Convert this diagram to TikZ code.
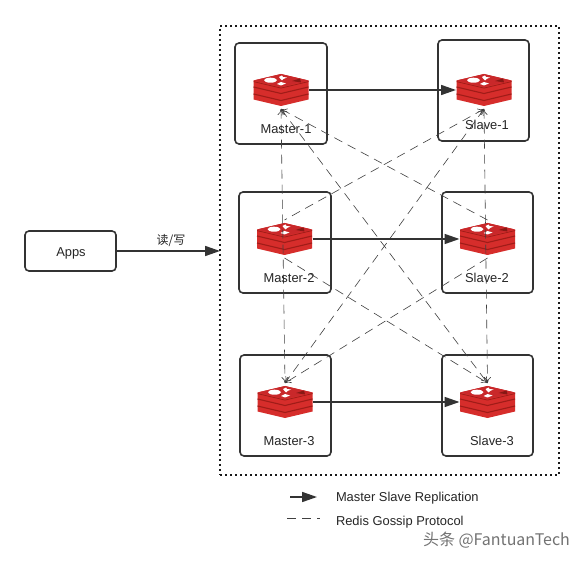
\documentclass[tikz,border=0pt]{standalone}
\usepackage{fontspec}
\setmainfont{Liberation Sans}
\newfontfamily\cjkf{Noto Sans CJK SC}
\usetikzlibrary{arrows.meta}
\definecolor{lineC}{HTML}{333333}
\definecolor{rTop}{HTML}{C9282A}
\definecolor{rSide}{HTML}{D62D2B}
\definecolor{rGap}{HTML}{A01C18}
\tikzset{
  x=1pt,y=-1pt,
  every node/.style={font=\fontsize{12.9}{15}\selectfont,text=black!85,inner sep=0pt,outer sep=0pt},
  unit/.style={draw=lineC,line width=1.6pt,rounded corners=4pt,anchor=north west},
  iconbox/.style={minimum width=56pt,minimum height=38pt},
  repl/.style={draw=lineC,line width=1.6pt,-{Triangle[length=15pt,width=10pt]}},
  gossipline/.style={draw=black!75,line width=.6pt,dash pattern=on 9pt off 6pt},
  headhere/.style={{To[length=6pt,width=7pt,open]}-},
  headthere/.style={-{To[length=6pt,width=7pt,open]}},
  headboth/.style={{To[length=6pt,width=7pt,open]}-{To[length=6pt,width=7pt,open]}},
  frame/.style={draw=black!90,line width=1.5pt,dash pattern=on 2pt off 3pt},
  redis/.pic={
    \fill[rSide] (-27.5,-9.5) -- (0,-16) -- (27.5,-9.5) -- (27.5,9.5) -- (0,16) -- (-27.5,9.5) -- cycle;
    \foreach \d in {0,7}{
      \draw[rGap,line width=1.1pt] (-27.5,-3+\d) -- (0,3.5+\d) -- (27.5,-3+\d);
    }
    \fill[rGap] (-27.5,-8.8) -- (0,-2.3) -- (27.5,-8.8) -- (27.5,-8) -- (0,-1.5) -- (-27.5,-8) -- cycle;
    \fill[rTop] (-27.5,-9.5) -- (0,-16) -- (27.5,-9.5) -- (0,-3) -- cycle;
    \fill[white] (-10.5,-9.8) ellipse [x radius=6.5pt,y radius=2.5pt];
    \fill[white] (-2,-13) -- (1,-14.5) -- (2,-13) -- (6,-12.5) -- (2.5,-11) -- (1,-9.5) -- (-.5,-11) -- cycle;
    \fill[white] (-4,-6) -- (0,-8) -- (5,-6.5) -- (0,-4.5) -- cycle;
    \fill[rGap!85!black] (11,-9) -- (19,-11.5) -- (20,-7.5) -- cycle;
  }
}
\begin{document}
\begin{tikzpicture}
\useasboundingbox (0,0) rectangle (584,561);
\fill[white] (0,0) rectangle (584,561);

\node[frame,anchor=north west,minimum width=339pt,minimum height=449pt] (cluster) at (220,26) {};

\node[unit,minimum width=92pt,minimum height=101pt] (bm1) at (235,43) {};
\node[unit,minimum width=91pt,minimum height=101pt] (bs1) at (438,40) {};
\node[unit,minimum width=92pt,minimum height=101pt] (bm2) at (239,192) {};
\node[unit,minimum width=91pt,minimum height=101pt] (bs2) at (442,192) {};
\node[unit,minimum width=91pt,minimum height=101pt] (bm3) at (240,355) {};
\node[unit,minimum width=91pt,minimum height=101pt] (bs3) at (442,355) {};
\node[unit,minimum width=91pt,minimum height=40pt] (apps) at (25,231) {};
\node (tapps) at (71,253) {Apps};

\node[iconbox] (im1) at (281,90) {};
\node[iconbox] (is1) at (484,90) {};
\node[iconbox] (im2) at (284.5,239) {};
\node[iconbox] (is2) at (487.5,239) {};
\node[iconbox] (im3) at (285,402) {};
\node[iconbox] (is3) at (487.5,402) {};

\draw[gossipline,headhere] (im1.south) -- (is2.north);
\draw[gossipline,headboth] (im1.south) -- (is3.north);
\draw[gossipline,headhere] (is1.south) -- (im2.north);
\draw[gossipline,headboth] (is1.south) -- (im3.north);
\draw[gossipline,headthere] (im2.south) -- (is3.north);
\draw[gossipline,headthere] (is2.south) -- (im3.north);

\foreach \n in {im1,is1,im2,is2,im3,is3} \pic at (\n) {redis};

\draw[gossipline,headboth] (im1.south) -- (im3.north);
\draw[gossipline,headboth] (is1.south) -- (is3.north);

\node (tm1) at (286,129) {Master-1};
\node (ts1) at (487,125) {Slave-1};
\node (tm2) at (289,278) {Master-2};
\node (ts2) at (487,278) {Slave-2};
\node (tm3) at (289,441) {Master-3};
\node (ts3) at (492,441) {Slave-3};

\draw[repl] (im1.east) -- (is1.west);
\draw[repl] (im2.east) -- (is2.west);
\draw[repl] (im3.east) -- (is3.west);
\draw[repl] (apps.east) -- (cluster.west |- apps.east);
\node[font=\cjkf\fontsize{12}{14}\selectfont] (rw) at (171,241) {读/写};

\coordinate (la) at (290,497); \coordinate (lb) at (317,497);
\coordinate (lc) at (287,518); \coordinate (ld) at (320,518);
\draw[repl] (la) -- (lb);
\draw[gossipline] (lc) -- (ld);
\node[anchor=west] (t1) at (336,498) {Master Slave Replication};
\node[anchor=west] (t2) at (336,522) {Redis Gossip Protocol};
\node[anchor=west,text=black!55,font=\cjkf\fontsize{16}{18}\selectfont] (wm) at (423,540) {头条 @FantuanTech};
\end{tikzpicture}
\end{document}
